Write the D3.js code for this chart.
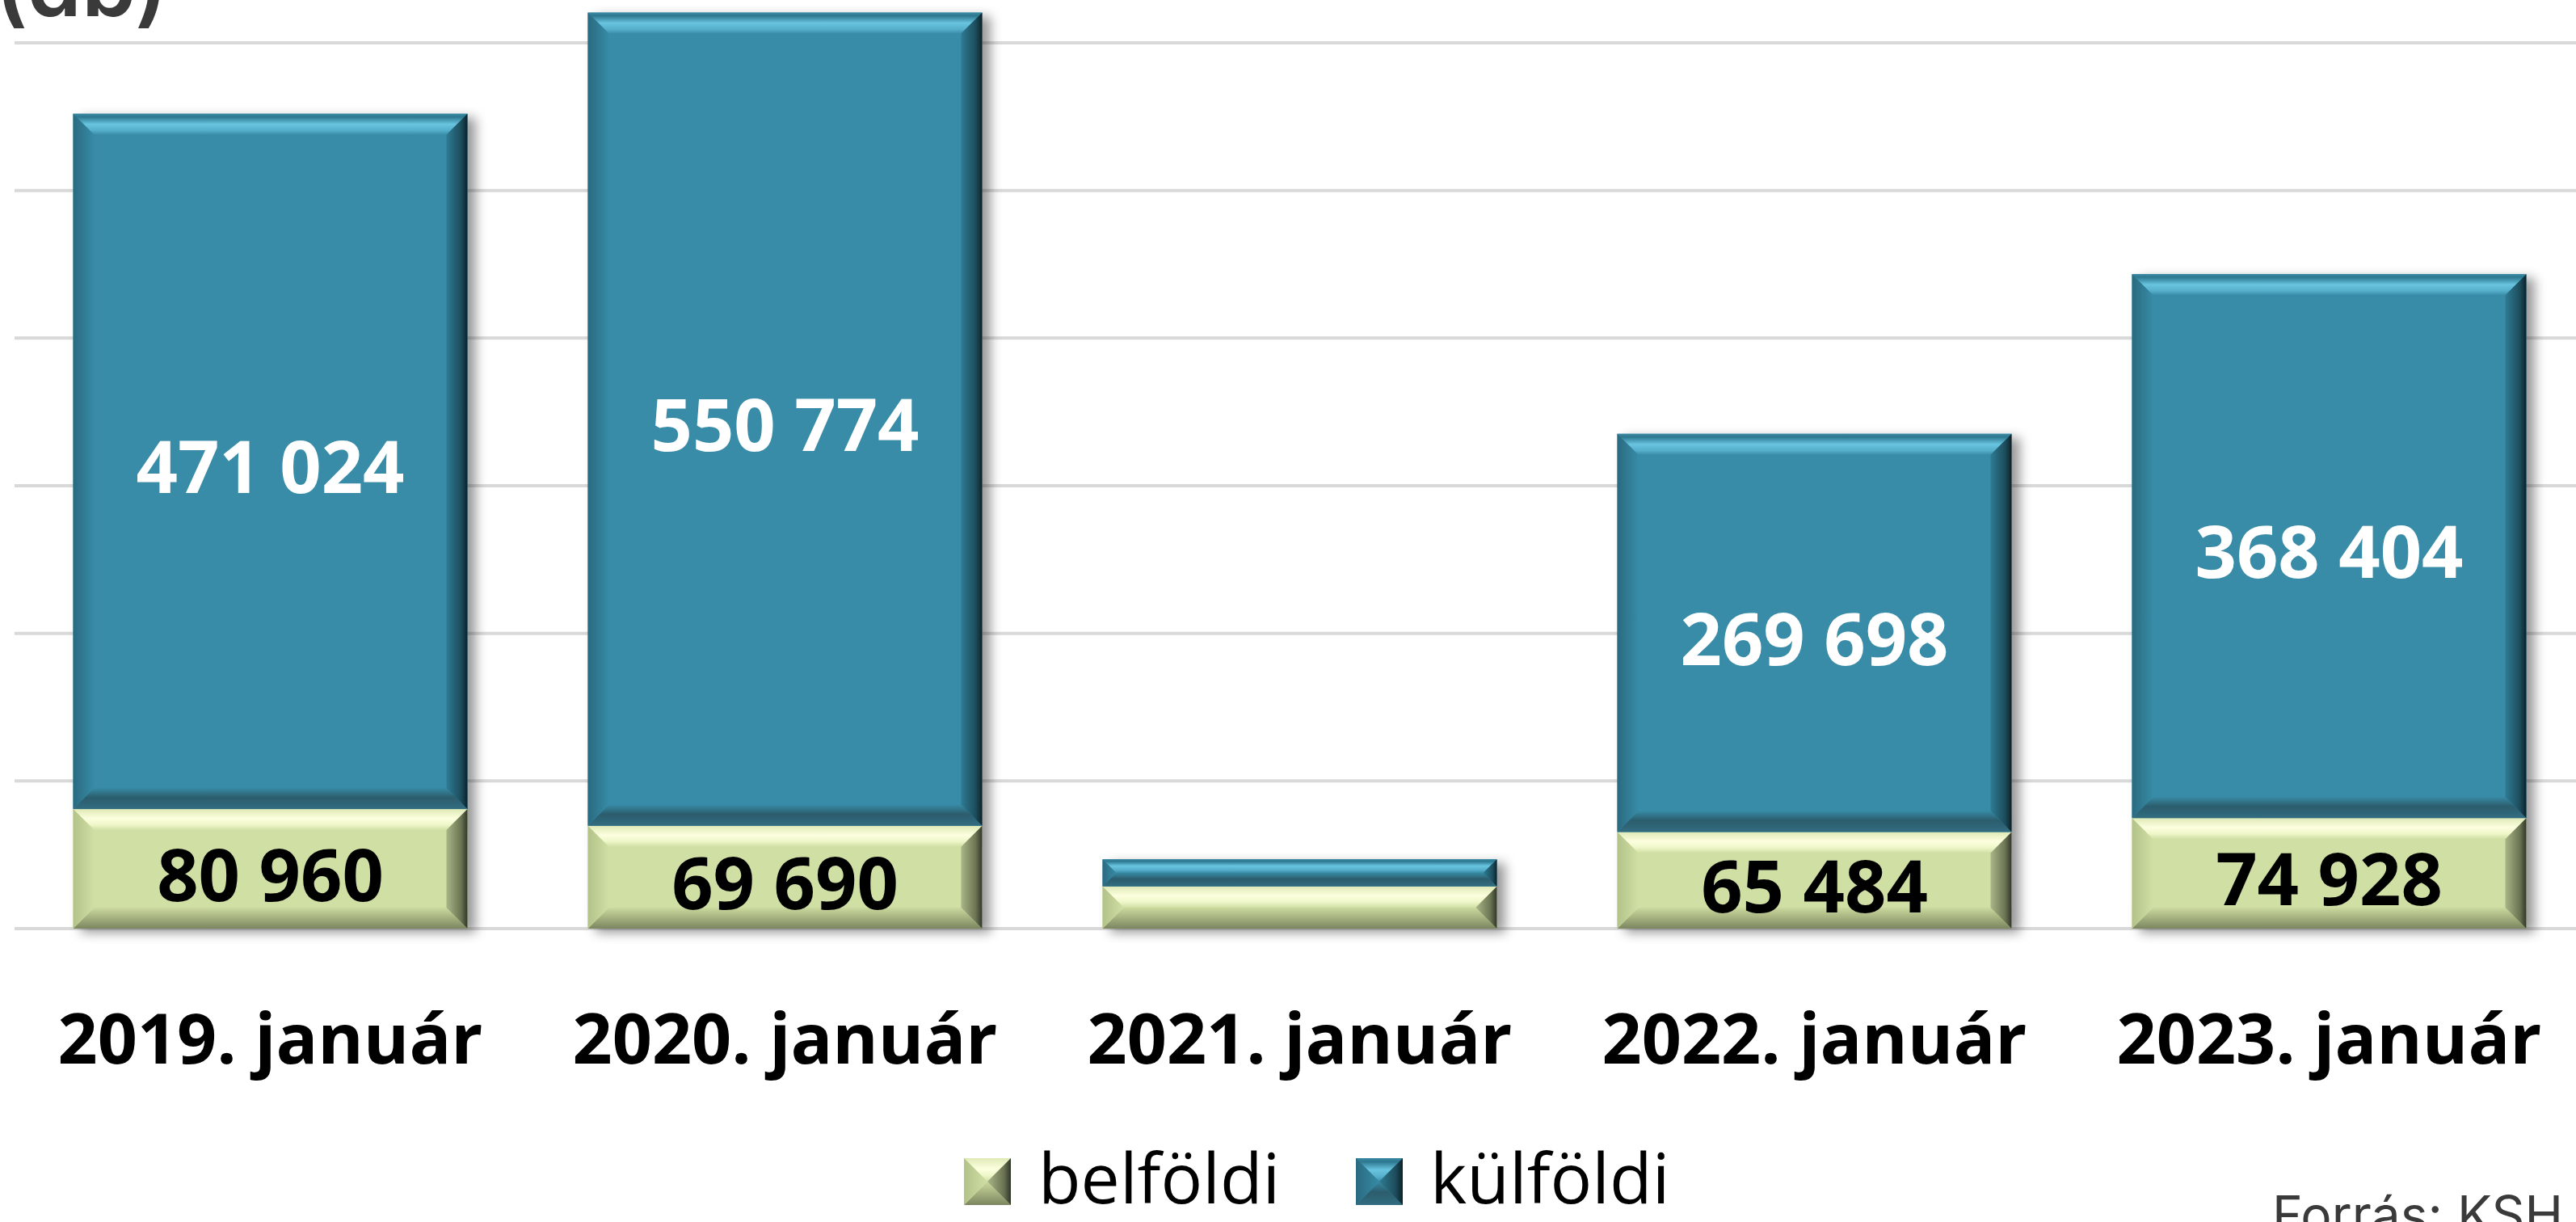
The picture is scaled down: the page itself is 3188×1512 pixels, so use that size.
<!DOCTYPE html>
<html>
<head>
<meta charset="utf-8">
<script src="https://cdn.jsdelivr.net/npm/d3@7"></script>
<style>
  html, body { margin: 0; padding: 0; background: #ffffff; overflow: hidden; }
  svg { display: block; }
</style>
</head>
<body>
<script>
// ---- data ----
const categories = ["2019. január", "2020. január", "2021. január", "2022. január", "2023. január"];
const belfoldi = [80960, 69690, 28600, 65484, 74928];
const kulfoldi = [471024, 550774, 18400, 269698, 368404];
const labelVisible = [true, true, false, true, true];
const yTicks = [0, 100000, 200000, 300000, 400000, 500000, 600000];
const seriesNames = ["belföldi", "külföldi"];
const unitLabel = "(db)";
const sourceLabel = "Forrás: KSH";

const W = 3188, H = 1512;
const svg = d3.select("body").append("svg").attr("width", W).attr("height", H);
const defs = svg.append("defs");

const fmt = d3.formatLocale({ decimal: ",", thousands: " ", grouping: [3], currency: ["", ""] }).format(",d");

const x = d3.scaleBand().domain(categories).range([16, 3201]).paddingInner(0.234).paddingOuter(0.117);
const y = d3.scaleLinear().domain([0, 600000]).range([1149, 53]);

// shadow filter
const f = defs.append("filter").attr("id", "shadow").attr("x", "-10%").attr("y", "-10%").attr("width", "130%").attr("height", "130%");
f.append("feDropShadow").attr("dx", 10).attr("dy", 5).attr("stdDeviation", 7).attr("flood-color", "#000").attr("flood-opacity", 0.4);

// gradients
function grad(id, x1, y1, x2, y2, stops) {
  const g = defs.append("linearGradient").attr("id", id)
    .attr("x1", x1).attr("y1", y1).attr("x2", x2).attr("y2", y2);
  stops.forEach(s => g.append("stop").attr("offset", s[0]).attr("stop-color", s[1]));
}
const pal = {
  teal: {
    body: "#388ca7",
    top: [[0, "#3a8aa3"], [0.15, "#2d7790"], [0.5, "#68c4df"], [0.8, "#55aecb"], [1, "#3a8da8"]],
    bottom: [[0, "#378aa5"], [0.45, "#2c5d6d"], [1, "#316c80"]],
    left: [[0, "#2a6a80"], [1, "#378ba6"]],
    right: [[0, "#2f7b93"], [0.7, "#1d4c5b"], [1, "#0b2128"]]
  },
  green: {
    body: "#d0e0a5",
    top: [[0, "#dfe9b6"], [0.45, "#fcffdf"], [0.75, "#eef6c8"], [1, "#d0e0a5"]],
    bottom: [[0, "#cbda9f"], [0.5, "#a4b07e"], [1, "#7b8660"]],
    left: [[0, "#b3c288"], [1, "#d0e0a5"]],
    right: [[0, "#a9b687"], [0.7, "#6a7352"], [1, "#30362a"]]
  }
};
Object.entries(pal).forEach(([k, p]) => {
  grad(k + "-top", 0, 0, 0, 1, p.top);
  grad(k + "-bottom", 0, 1, 0, 0, p.bottom.map(s => [1 - s[0], s[1]]).reverse());
  grad(k + "-left", 0, 0, 1, 0, p.left);
  grad(k + "-right", 0, 0, 1, 0, p.right);
});

function bevelRect(g, bx, by, w, h, key, maxB) {
  const b = Math.min(maxB, h / 2, w / 2);
  const p = pal[key];
  g.append("rect").attr("x", bx).attr("y", by).attr("width", w).attr("height", h).attr("fill", p.body);
  const poly = (pts, fill) => g.append("polygon").attr("points", pts.map(d => d.join(",")).join(" ")).attr("fill", fill);
  poly([[bx, by], [bx + w, by], [bx + w - b, by + b], [bx + b, by + b]], `url(#${key}-top)`);
  poly([[bx, by + h], [bx + w, by + h], [bx + w - b, by + h - b], [bx + b, by + h - b]], `url(#${key}-bottom)`);
  poly([[bx, by], [bx + b, by + b], [bx + b, by + h - b], [bx, by + h]], `url(#${key}-left)`);
  poly([[bx + w, by], [bx + w - b, by + b], [bx + w - b, by + h - b], [bx + w, by + h]], `url(#${key}-right)`);
}

// gridlines
svg.append("g").selectAll("line").data(yTicks).join("line")
  .attr("x1", 18).attr("x2", W)
  .attr("y1", d => y(d)).attr("y2", d => y(d))
  .attr("stroke", "#d9d9d9").attr("stroke-width", 4);

// bars
const rows = categories.map((c, i) => ({ c, b: belfoldi[i], k: kulfoldi[i], show: labelVisible[i] }));
const barG = svg.append("g");
rows.forEach(r => {
  const g = barG.append("g").attr("filter", "url(#shadow)");
  const x0 = x(r.c), w = x.bandwidth();
  bevelRect(g, x0, y(r.b), w, y(0) - y(r.b), "green", 26);
  bevelRect(g, x0, y(r.b + r.k), w, y(r.b) - y(r.b + r.k), "teal", 26);
});

// value labels
const lab = svg.append("g").attr("font-family", "'Open Sans', sans-serif").attr("font-weight", 700)
  .attr("font-size", 90).attr("text-anchor", "middle");
rows.filter(r => r.show).forEach(r => {
  const cx = x(r.c) + x.bandwidth() / 2;
  lab.append("text").attr("x", cx).attr("y", (y(0) + y(r.b)) / 2 + 8).attr("dy", "0.35em")
    .attr("fill", "#000").text(fmt(r.b));
  lab.append("text").attr("x", cx).attr("y", (y(r.b) + y(r.b + r.k)) / 2 + 8).attr("dy", "0.35em")
    .attr("fill", "#fff").text(fmt(r.k));
});

// category axis labels
svg.append("g").selectAll("text").data(categories).join("text")
  .attr("x", d => x(d) + x.bandwidth() / 2).attr("y", 1316)
  .attr("text-anchor", "middle").attr("font-family", "'Open Sans', sans-serif")
  .attr("font-weight", 700).attr("font-size", 86).attr("fill", "#000").text(d => d);

// legend
const legend = svg.append("g");
const legendX = [1193, 1678];
const legendKeys = ["green", "teal"];
seriesNames.forEach((n, i) => {
  const g = legend.append("g");
  bevelRect(g, legendX[i], 1433, 58, 58, legendKeys[i], 29);
  g.append("text").attr("x", legendX[i] + 92).attr("y", 1489)
    .attr("font-family", "'Open Sans', sans-serif").attr("font-size", 86).attr("fill", "#000").text(n);
});

// unit label (cut at top) and source
svg.append("text").attr("x", -6).attr("y", 20).attr("font-family", "Inter, Roboto, sans-serif")
  .attr("font-weight", 600).attr("font-size", 108).attr("fill", "#3a3a3a").text(unitLabel);
svg.append("text").attr("x", 3172).attr("y", 1526).attr("text-anchor", "end")
  .attr("font-family", "Inter, Roboto, sans-serif").attr("font-size", 64).attr("fill", "#3a3a3a").text(sourceLabel);
</script>
</body>
</html>
